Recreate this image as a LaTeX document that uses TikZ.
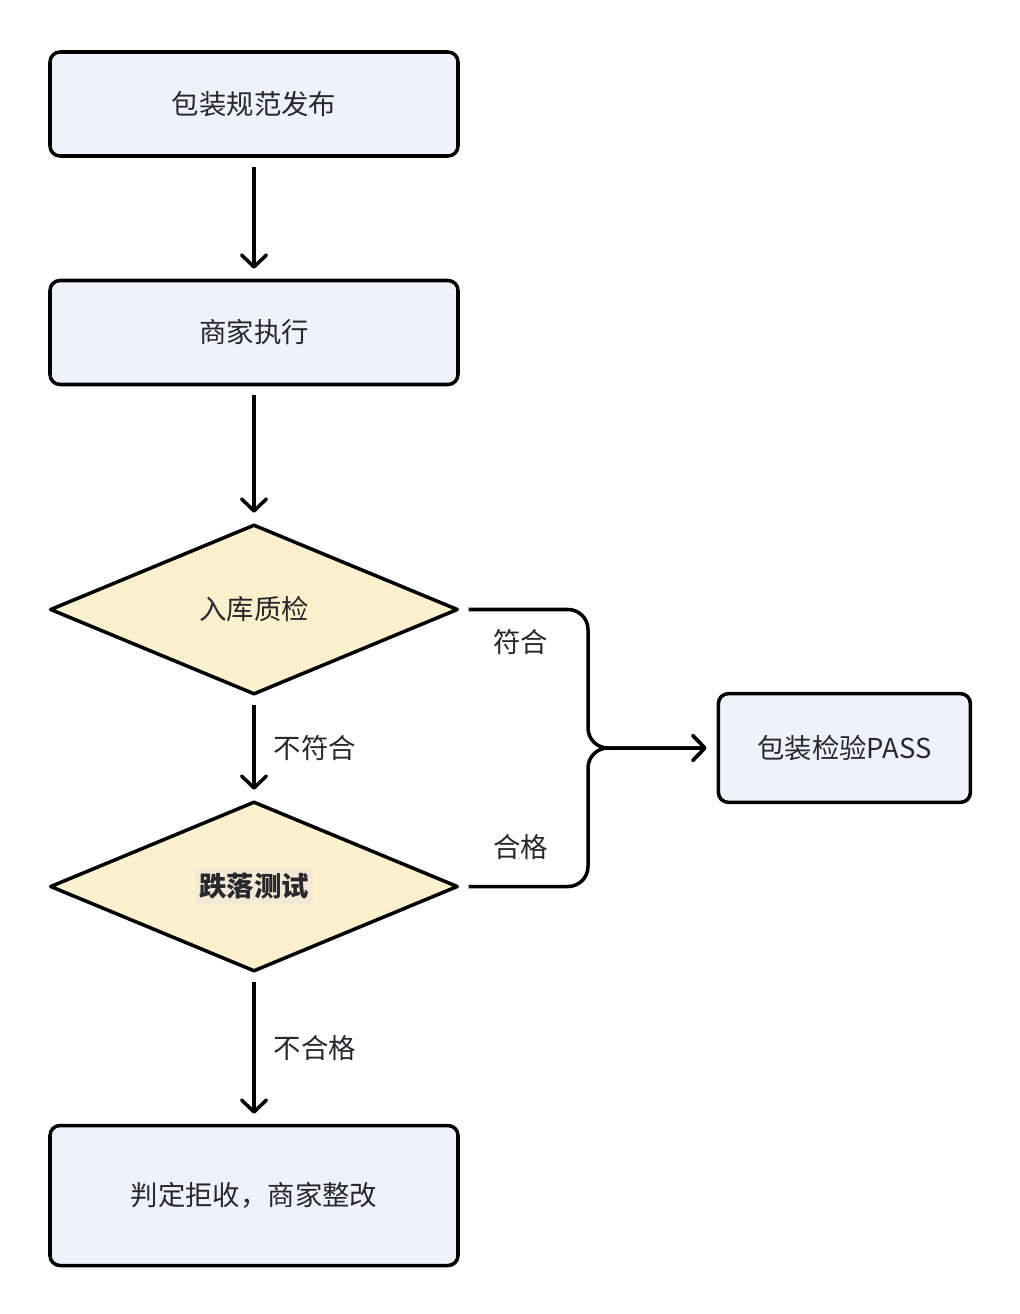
\documentclass[tikz,border=0pt]{standalone}
\usepackage{fontspec}
\setmainfont{Noto Sans CJK SC}
\usepackage{xcolor}
\usetikzlibrary{arrows.meta, positioning, calc, shapes.geometric}

\definecolor{boxfill}{RGB}{238,242,251}
\definecolor{decfill}{RGB}{253,240,204}
\definecolor{markfill}{RGB}{242,234,212}
\definecolor{txt}{RGB}{40,40,44}

\begin{document}
\begin{tikzpicture}[
	font=\fontsize{19.5}{23}\selectfont, text=txt,
	box/.style={draw=black, line width=2.5pt, fill=boxfill, rounded corners=0.25cm,
		minimum width=10.2cm, minimum height=2.6cm, inner sep=0pt},
	decision/.style={draw=black, line width=2.5pt, fill=decfill, diamond, line join=round,
		minimum width=10.2cm, minimum height=4.25cm, inner sep=0pt},
	flow/.style={line width=2.5pt, shorten <=0.22cm, shorten >=0.25cm,
		-{Straight Barb[length=0.3cm, width=0.62cm, line join=round, line cap=round]}},
	lbl/.style={inner sep=0pt}
	]
	\useasboundingbox[fill=white] (0,0) rectangle (25.5,-32.85);
	
	% Main column
	\node[box] (spec) at (6.35,-2.6) {包装规范发布};
	\node[box] (exec) at (6.35,-8.3125) {商家执行};
	\node[decision] (check) at (6.35,-15.2375) {入库质检};
	\node[decision] (drop) at (6.35,-22.1625) {\bfseries\colorbox{markfill}{跌落测试}};
	\node[box, minimum height=3.5cm] (reject) at (6.35,-29.8875) {判定拒收，商家整改};
	
	% Pass box on the right
	\node[box, minimum width=6.3cm, minimum height=2.72cm] (pass) at (21.11,-18.7) {包装检验PASS};
	\coordinate (merge) at (14.7,-18.7);
	
	% Arrows
	\draw[flow] (spec) -- (exec);
	\draw[flow] (exec) -- (check);
	\draw[flow] (check) -- node[lbl, right=0.45cm] {不符合} (drop);
	\draw[flow] (drop) -- node[lbl, right=0.45cm] {不合格} (reject);
	\draw[flow, rounded corners=0.5cm] (check.east) -- (check.east -| merge) -- (merge) -- (pass.west);
	\draw[flow, rounded corners=0.5cm] (drop.east) -- (drop.east -| merge) -- (merge) -- (pass.west);
	
	% Labels
	\node[lbl] (yes1) at ($(check.east)+(1.525,-0.825)$) {符合};
	\node[lbl] (yes2) at ($(drop.east)+(1.525,0.975)$) {合格};
\end{tikzpicture}
\end{document}
